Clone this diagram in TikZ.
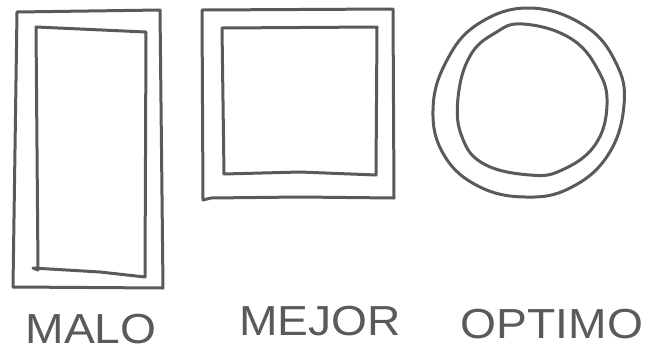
\documentclass[tikz,border=0pt]{standalone}
\usepackage{fontspec}
\setmainfont{Liberation Sans}
\usepackage{xcolor}
\usepackage{tikz}
\definecolor{pencil}{HTML}{5A5A5A}

\begin{document}
\begin{tikzpicture}[x=1pt, y=-1pt,
    sketch/.style={draw=pencil, line width=3pt, line join=round, line cap=round},
    word/.style={text=pencil, font=\fontsize{42}{42}\selectfont, inner sep=0pt, xscale=1.1}]
  \useasboundingbox (0,0) rectangle (650,354);
  % malo: tall rectangle
  \draw[sketch] (17,12) -- (160,10) -- (163,288) -- (13,287) -- cycle;
  \draw[sketch] (36,27) -- (146,32) -- (145,277) -- (100,272) -- (33,268) -- (38,270) -- cycle;
  % mejor: square
  \draw[sketch] (202,10) -- (393,9) -- (394,198) -- (300,197) -- (211,198) -- (203,200) -- cycle;
  \draw[sketch] (222,28) -- (377,27) -- (376,175) -- (300,172) -- (224,174) -- cycle;
  % optimo: ring
  \draw[sketch] plot[smooth cycle, tension=0.7] coordinates {(530,8) (585,26) (616,63) (624,105)
    (608,155) (570,188) (525,197) (478,186) (444,155) (433,110) (446,62) (478,24)};
  \draw[sketch] plot[smooth cycle, tension=0.7] coordinates {(523,24) (570,38) (598,70) (607,105)
    (595,145) (562,170) (530,175) (484,164) (462,137) (458,98) (470,56) (495,33)};
  % labels
  \node[word] (malo) at (91,329) {MALO};
  \node[word] (mejor) at (320,321) {MEJOR};
  \node[word] (optimo) at (552,324) {OPTIMO};
\end{tikzpicture}
\end{document}
